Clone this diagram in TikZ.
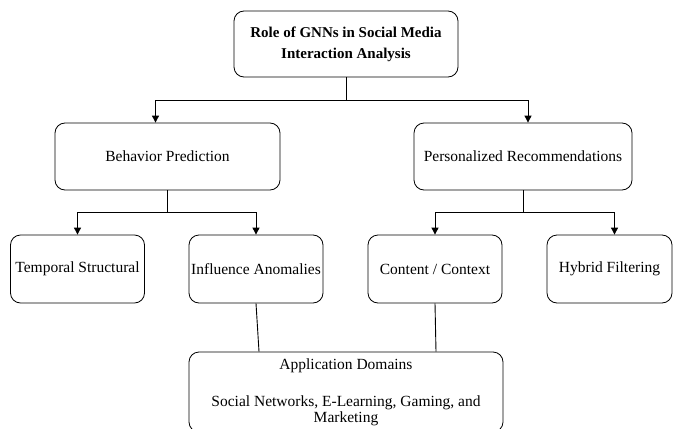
\documentclass[tikz,border=0pt]{standalone}
\usepackage{fontspec}
\setmainfont{Liberation Serif}
\usetikzlibrary{arrows.meta}

\begin{document}
\begin{tikzpicture}[x=1pt,y=-1pt,
every node/.style={draw, thick, rounded corners=10pt, align=center, inner sep=1pt, font=\fontsize{15.5}{16}\selectfont},
lvl/.style={minimum width=225pt, minimum height=67pt},
leaf/.style={minimum width=134pt, minimum height=68pt},
arr/.style={-{Triangle[length=7pt,width=7pt]}, line width=0.9pt},
ln/.style={line width=0.9pt}
]
\useasboundingbox (0,0) rectangle (674,428);

\node[minimum width=224pt, minimum height=66pt, font=\fontsize{15}{21}\selectfont\bfseries] at (346,44) (root) {Role of GNNs in Social Media\\Interaction Analysis};
\node[lvl] at (167.5,156.5) (bp) {Behavior Prediction};
\node[lvl, minimum width=218pt] at (523,156.5) (pr) {Personalized Recommendations};
\node[leaf] at (77.5,269) (ts) {Temporal Structural};
\node[leaf] at (256,269) (ia) {Influence Anomalies};
\node[leaf] at (435,269) (cc) {Content / Context};
\node[leaf, minimum width=125pt] at (609.5,269) (hf) {Hybrid Filtering};
\node[minimum width=314pt, minimum height=80pt] at (346,392) (app) {Application Domains\\[21pt]Social Networks, E-Learning, Gaming, and\\Marketing};

\draw[arr] (root.south) -- ++(0,23) -| ([xshift=-12pt]bp.north);
\draw[arr] (root.south) -- ++(0,23) -| ([xshift=5pt]pr.north);
\draw[arr] (bp.south) -- ++(0,22) -| (ts.north);
\draw[arr] (bp.south) -- ++(0,22) -| (ia.north);
\draw[arr] (pr.south) -- ++(0,22) -| (cc.north);
\draw[arr] (pr.south) -- ++(0,22) -| ([xshift=5pt]hf.north);

\draw[ln] (ia.south) -- ([xshift=-87pt]app.north);
\draw[ln] (cc.south) -- ([xshift=90pt]app.north);

\end{tikzpicture}
\end{document}
